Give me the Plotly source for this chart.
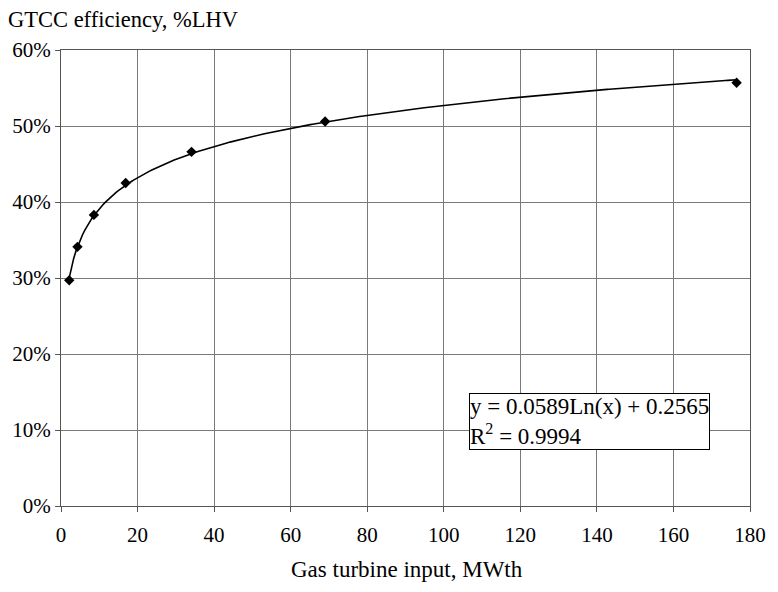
import numpy as np
import plotly.graph_objects as go

# Data
gt_input_mwth = [2.15, 4.3, 8.6, 16.9, 34.1, 69.0, 176.5]
gtcc_eff = [0.297, 0.341, 0.383, 0.425, 0.466, 0.506, 0.557]

x_ticks = [0, 20, 40, 60, 80, 100, 120, 140, 160, 180]
y_ticks = [0, 0.1, 0.2, 0.3, 0.4, 0.5, 0.6]

eq_text = "y = 0.0589Ln(x) + 0.2565<br>R<sup>2</sup> = 0.9994"

# Logarithmic trendline fitted to the data (as in the original chart)
xa = np.array(gt_input_mwth)
b, a = np.polyfit(np.log(xa), np.array(gtcc_eff), 1)
xt = np.linspace(xa.min(), xa.max(), 300)
yt = b * np.log(xt) + a

font = "Liberation Serif"

fig = go.Figure()
fig.add_trace(go.Scatter(x=xt, y=yt, mode="lines",
                         line=dict(color="black", width=1.6),
                         hoverinfo="skip", showlegend=False))
fig.add_trace(go.Scatter(x=gt_input_mwth, y=gtcc_eff, mode="markers",
                         marker=dict(symbol="diamond", size=8, color="black"),
                         showlegend=False))

fig.update_layout(
    width=778, height=592,
    margin=dict(l=61, r=22, t=50, b=86),
    paper_bgcolor="white", plot_bgcolor="white",
    font=dict(family=font, size=21, color="black"),
    xaxis=dict(range=[0, 180], tickvals=x_ticks, showgrid=True,
               gridcolor="#7a7a7a", gridwidth=1, zeroline=False,
               showline=True, linecolor="#555555", mirror=True,
               ticks="outside", ticklen=5, tickcolor="#555555",
               ticklabelstandoff=5,
               tickfont=dict(family=font, size=21)),
    yaxis=dict(range=[0, 0.6], tickvals=y_ticks, tickformat=".0%",
               showgrid=True, gridcolor="#7a7a7a", gridwidth=1,
               zeroline=False, showline=True, linecolor="#555555",
               mirror=True, ticks="outside", ticklen=5,
               tickcolor="#555555", tickfont=dict(family=font, size=21)),
    annotations=[
        dict(text="GTCC efficiency, %LHV", xref="paper", yref="paper",
             x=-55/695, y=1 + (50-20)/456, xanchor="left", yanchor="middle",
             showarrow=False, font=dict(family=font, size=22.5)),
        dict(text="Gas turbine input, MWth", xref="paper", yref="paper",
             x=(410-61)/695, y=-(569-506)/456, xanchor="center",
             yanchor="middle", showarrow=False,
             font=dict(family=font, size=23)),
        dict(text=eq_text, xref="paper", yref="paper",
             x=(473-61)/695, y=(506-393)/456, xanchor="left", yanchor="top",
             align="left", showarrow=False, bgcolor="white",
             bordercolor="black", borderwidth=1, borderpad=0,
             font=dict(family=font, size=23)),
    ],
)

fig.write_html("out.html")
